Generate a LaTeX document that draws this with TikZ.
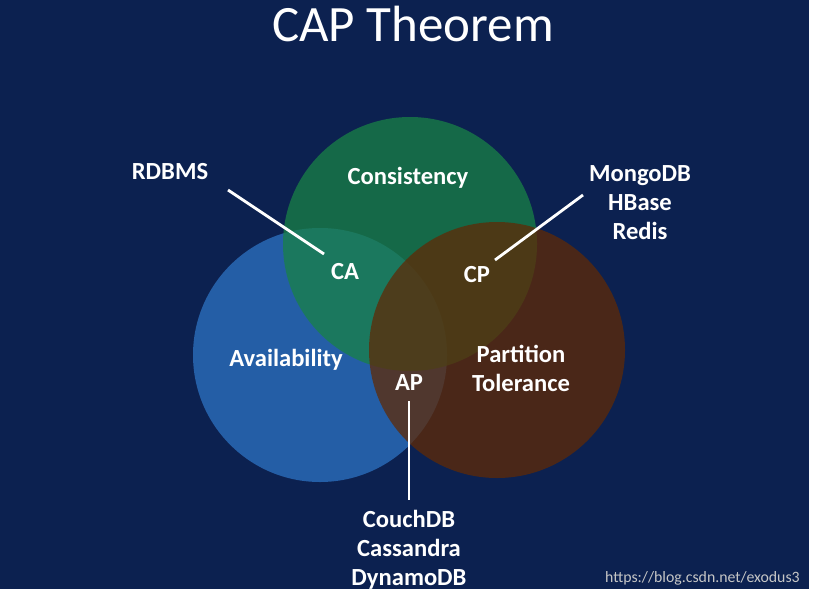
\documentclass[tikz,border=0pt]{standalone}
\usepackage{fontspec}
\setmainfont{Carlito}
\begin{document}
\begin{tikzpicture}[x=0.02cm,y=-0.02cm,
  lbl/.style={text=white,font=\fontsize{14}{16.5}\selectfont\bfseries,align=center},
  conn/.style={draw=white,line width=1.6pt},
  circ/.style={fill opacity=0.75}]
\useasboundingbox (0,0) rectangle (817,598);
\fill[white] (0,0) rectangle (817,598);
\fill[fill={rgb,255:red,12;green,33;blue,80}] (0,0) rectangle (809,589);
\fill[circ,fill={rgb,255:red,45;green,115;blue,195}] (320,355) circle (127);
\fill[circ,fill={rgb,255:red,25;green,130;blue,70}] (410,244) circle (127);
\fill[circ,fill={rgb,255:red,95;green,42;blue,6}] (497,350) circle (128);
\node[text=white,font=\fontsize{29}{32}\selectfont] (title) at (413,24) {CAP Theorem};
\node[lbl] (cons) at (408,178) {Consistency};
\node[lbl] (avail) at (286,360) {Availability};
\node[lbl] (part) at (521,368) {Partition\\Tolerance};
\node[lbl] (ca) at (345,272) {CA};
\node[lbl] (cp) at (477,275) {CP};
\node[lbl] (ap) at (409,383) {AP};
\node[lbl] (rdbms) at (170,172) {RDBMS};
\node[lbl] (mongo) at (640,203) {MongoDB\\HBase\\Redis};
\node[lbl] (couch) at (409,550) {CouchDB\\Cassandra\\DynamoDB};
\coordinate (r1) at (228,190); \coordinate (r2) at (324,254);
\coordinate (m1) at (583,195); \coordinate (m2) at (495,260);
\coordinate (a1) at (409,401); \coordinate (a2) at (409,500);
\draw[conn] (r1) -- (r2);
\draw[conn] (m1) -- (m2);
\draw[conn] (a1) -- (a2);
\node[text=gray!45,font=\fontsize{9}{10}\selectfont,anchor=east] (wm) at (806,578) {https://blog.csdn.net/exodus3};
\end{tikzpicture}
\end{document}
